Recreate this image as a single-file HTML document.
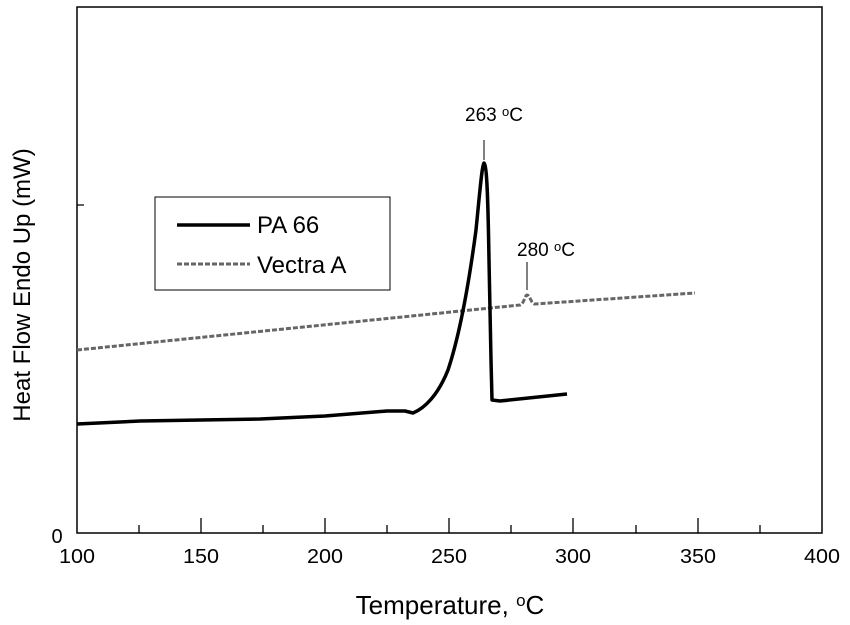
<!DOCTYPE html>
<html><head><style>body{margin:0;background:#fff}svg{display:block}text{font-family:"Liberation Sans",sans-serif;fill:#000}</style></head>
<body>
<svg width="850" height="625" viewBox="0 0 850 625">
<rect x="77" y="7" width="745" height="526" fill="none" stroke="#000" stroke-width="1.5"/>
<g stroke="#000" stroke-width="1.3">
<path d="M201 533v-15M325 533v-15M449 533v-15M573 533v-15M698 533v-15M139 533v-8M263 533v-8M387 533v-8M511 533v-8M636 533v-8M760 533v-8M77 205h7"/>
</g>
<g font-size="20" text-anchor="middle">
<text x="77" y="563" textLength="36" lengthAdjust="spacingAndGlyphs">100</text><text x="201" y="563" textLength="36" lengthAdjust="spacingAndGlyphs">150</text><text x="325" y="563" textLength="36" lengthAdjust="spacingAndGlyphs">200</text><text x="449" y="563" textLength="36" lengthAdjust="spacingAndGlyphs">250</text><text x="573" y="563" textLength="36" lengthAdjust="spacingAndGlyphs">300</text><text x="698" y="563" textLength="36" lengthAdjust="spacingAndGlyphs">350</text><text x="822" y="563" textLength="36" lengthAdjust="spacingAndGlyphs">400</text>
<text x="57" y="543">0</text>
</g>
<text x="450" y="614" font-size="26" text-anchor="middle">Temperature, <tspan font-size="17" dy="-8">o</tspan><tspan dy="8">C</tspan></text>
<text transform="translate(30,285) rotate(-90)" font-size="24" text-anchor="middle">Heat Flow Endo Up (mW)</text>
<path d="M77 350 L520 305 C524 304 525 295 527 295 C530 295 531 304 535 304 L695 293" fill="none" stroke="#666" stroke-width="3" stroke-dasharray="5,2"/>
<path d="M77 424 L140 421 L201 420 L260 419 L325 416 L387 411 L405 411 L413 413 C425 408 438 395 448 370 C458 340 468 290 476 230 C480 190 482 165 484 163 C487 165 488 200 489 260 L491 360 L492 400 L500 401 L567 394" fill="none" stroke="#000" stroke-width="3.5" stroke-linejoin="round"/>
<path d="M484 140v20M527 262v28" stroke="#000" stroke-width="1"/>
<text x="494" y="121" font-size="19" text-anchor="middle">263 <tspan font-size="13" dy="-5">o</tspan><tspan dy="5">C</tspan></text>
<text x="546" y="256" font-size="19" text-anchor="middle">280 <tspan font-size="13" dy="-5">o</tspan><tspan dy="5">C</tspan></text>
<rect x="155" y="197" width="235" height="93" fill="#fff" stroke="#000" stroke-width="1"/>
<path d="M177 225H250" stroke="#000" stroke-width="3.5"/>
<path d="M177 264H250" stroke="#666" stroke-width="3" stroke-dasharray="5,2"/>
<text x="257" y="233" font-size="24">PA 66</text>
<text x="257" y="273" font-size="24">Vectra A</text>
</svg>
</body></html>
